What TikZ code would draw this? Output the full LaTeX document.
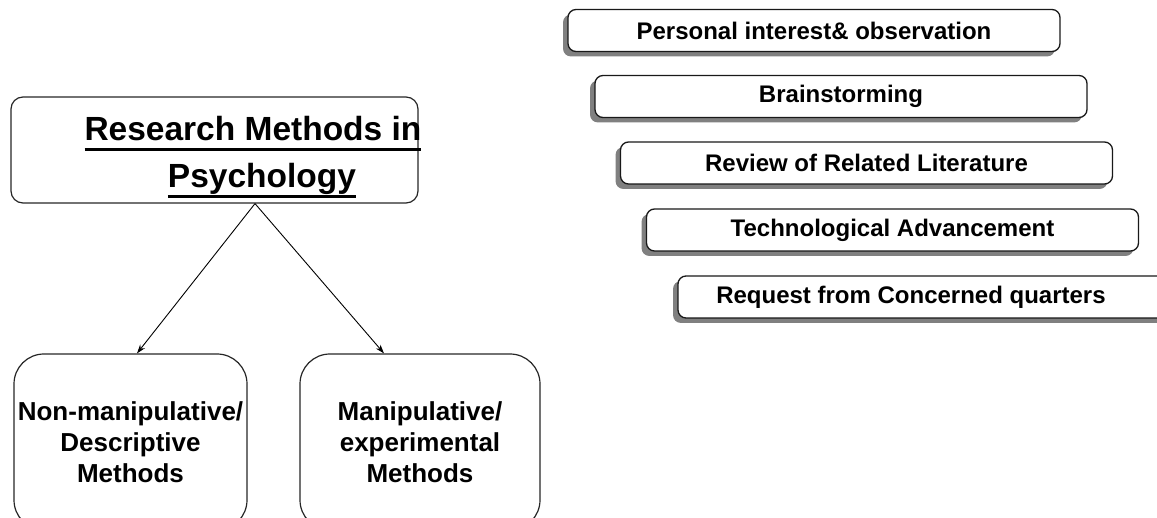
\documentclass[tikz,border=0pt]{standalone}
\usepackage{fontspec}
\setmainfont{Liberation Sans}
\usetikzlibrary{arrows.meta, positioning, shadows}

\newcommand{\titleline}[1]{\setbox0=\hbox{#1}\rlap{\rule[-10.5pt]{\wd0}{3pt}}\box0}

\begin{document}
\begin{tikzpicture}[x=1pt,y=-1pt,>={Stealth[length=9pt,width=6pt]}]
  \tikzstyle{topic}=[draw=black!85,line width=1.2pt,rounded corners=12pt,minimum width=407pt,minimum height=106pt]
  \tikzstyle{title}=[align=center,font=\fontsize{33.5}{47}\selectfont\bfseries]
  \tikzstyle{method}=[draw=black!85,line width=1.2pt,rounded corners=30pt,align=center,
    font=\fontsize{26}{31}\selectfont\bfseries,minimum height=176pt]
  \tikzstyle{source}=[draw=black!90,line width=1.3pt,rounded corners=8pt,fill=white,
    minimum width=492pt,minimum height=42pt,font=\fontsize{24}{28}\selectfont\bfseries,
    drop shadow={shadow xshift=-5pt,shadow yshift=-5pt,fill=gray,opacity=1}]

  \useasboundingbox (0,0) rectangle (1157,518);
  \clip (0,0) rectangle (1157,518);

  \node[topic]                      (rm)     at (214.5,150) {};
  \node[title]                      (rmtext) at (253,157)   {\titleline{Research Methods in}\\\hspace*{18pt}\titleline{Psychology}};
  \node[method,minimum width=233pt] (nm)     at (130.5,442) {Non-manipulative/\\Descriptive\\Methods};
  \node[method,minimum width=240pt] (mm)     at (420,442)   {Manipulative/\\experimental\\Methods};

  \node[source] (pi) at (814,30.5)  {Personal interest\& observation};
  \node[source] (bs) at (841,96.5)  {Brainstorming};
  \node[source] (rl) at (866.5,163) {Review of Related Literature};
  \node[source] (ta) at (892.5,230) {Technological Advancement};
  \node[source] (rc) at (924,297)   {Request from Concerned quarters\hspace*{26pt}};

  \coordinate (split) at ([xshift=40.5pt]rm.south);
  \draw[->,line width=0.9pt] (split) -- ([xshift=6.5pt]nm.north);
  \draw[->,line width=0.9pt] (split) -- ([xshift=-36pt]mm.north);
\end{tikzpicture}
\end{document}
